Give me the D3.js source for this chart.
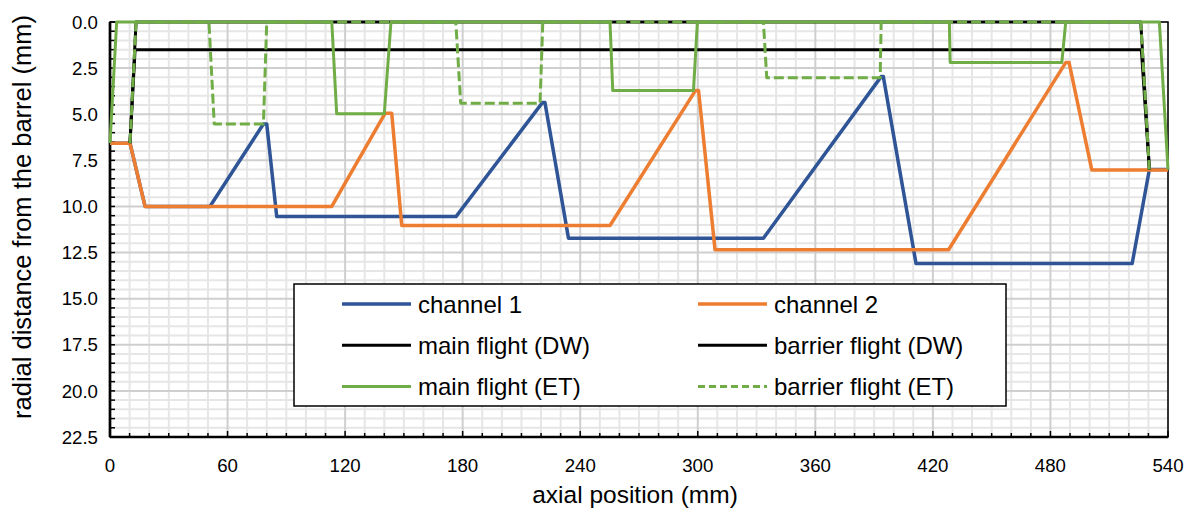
<!DOCTYPE html>
<html>
<head>
<meta charset="utf-8">
<script src="https://cdn.jsdelivr.net/npm/d3@7"></script>
<style>
  body { margin: 0; background: #fff; }
  text { font-family: "Liberation Sans", Arial, sans-serif; fill: #000; }
</style>
</head>
<body>
<div id="plot"></div>
<script>
// series (x = axial position mm, y = radial distance mm)
const ch1X = [0, 10.2, 17.9, 51.0, 78.3, 80.0, 85.1, 176.6, 220.7, 222.0, 234.0, 333.5, 393.6, 394.7, 411.4, 521.7, 530.5, 540];
const ch1Y = [6.57, 6.57, 10.0, 10.0, 5.53, 5.53, 10.55, 10.55, 4.37, 4.37, 11.72, 11.72, 2.96, 2.96, 13.1, 13.1, 8.0, 8.0];

const ch2X = [0, 10.2, 17.9, 113.2, 140.4, 143.8, 148.9, 255.2, 298.8, 300.4, 308.8, 428.0, 487.8, 489.5, 501.1, 540];
const ch2Y = [6.57, 6.57, 10.0, 10.0, 4.95, 4.95, 11.03, 11.03, 3.72, 3.72, 12.35, 12.35, 2.2, 2.2, 8.02, 8.02];

const mainDwX = [10.2, 12.8, 526.4, 530.5];
const mainDwY = [6.57, 1.5, 1.5, 8.0];

const barDwX = [10.2, 13.3, 526.1, 530.5];
const barDwY = [6.57, 0, 0, 8.0];

const mainEtX = [0, 3.4, 113.2, 115.7, 140.0, 143.4, 255.2, 256.6, 297.8, 299.8, 428.4, 428.8, 485.8, 487.8, 535.6, 540];
const mainEtY = [6.57, 0, 0, 4.98, 4.98, 0, 0, 3.72, 3.72, 0, 0, 2.2, 2.2, 0, 0, 8.0];

const barEtX = [10.2, 13.3, 50.5, 53.2, 78.3, 80.0, 176.5, 179.0, 219.5, 220.9, 333.5, 335.2, 393.1, 393.6, 526.1, 530.5];
const barEtY = [6.57, 0, 0, 5.53, 5.53, 0, 0, 4.4, 4.4, 0, 0, 3.02, 3.02, 0, 0, 8.0];

const xTicks = [0, 60, 120, 180, 240, 300, 360, 420, 480, 540];
const yTicks = [0, 2.5, 5, 7.5, 10, 12.5, 15, 17.5, 20, 22.5];

const seriesNames = ["channel 1", "channel 2", "main flight (DW)", "barrier flight (DW)", "main flight (ET)", "barrier flight (ET)"];

const series = [
  {name: seriesNames[0], xs: ch1X, ys: ch1Y, color: "#2F5597", width: 3.5, dash: null},
  {name: seriesNames[1], xs: ch2X, ys: ch2Y, color: "#ED7D31", width: 3.5, dash: null},
  {name: seriesNames[2], xs: mainDwX, ys: mainDwY, color: "#000000", width: 3, dash: null},
  {name: seriesNames[3], xs: barDwX, ys: barDwY, color: "#000000", width: 3, dash: null},
  {name: seriesNames[4], xs: mainEtX, ys: mainEtY, color: "#70AD47", width: 3, dash: null},
  {name: seriesNames[5], xs: barEtX, ys: barEtY, color: "#70AD47", width: 3, dash: "10,4"}
];

const margin = {top: 22, right: 19, bottom: 72, left: 110};
const width = 1187 - margin.left - margin.right;
const height = 509 - margin.top - margin.bottom;

const svg = d3.select("div#plot")
  .append("svg")
  .attr("width", 1187)
  .attr("height", 509)
  .append("g")
  .attr("transform", `translate(${margin.left},${margin.top})`);

const x = d3.scaleLinear().domain([0, 540]).range([0, width]);
const y = d3.scaleLinear().domain([0, 22.5]).range([0, height]);

// gridlines: minor first, major on top
const minorX = d3.range(0, 541, 10);
const minorY = d3.range(0, 22.51, 0.5);

svg.append("g").selectAll("line")
  .data(minorX.filter(v => v % 60 !== 0))
  .join("line")
  .attr("x1", d => x(d)).attr("x2", d => x(d))
  .attr("y1", 0).attr("y2", height)
  .attr("stroke", "#e6e6e6").attr("stroke-width", 2);

svg.append("g").selectAll("line")
  .data(minorY.filter(v => Math.abs(v / 2.5 - Math.round(v / 2.5)) > 1e-6))
  .join("line")
  .attr("x1", 0).attr("x2", width)
  .attr("y1", d => y(d)).attr("y2", d => y(d))
  .attr("stroke", "#e6e6e6").attr("stroke-width", 2);

svg.append("g").selectAll("line")
  .data(xTicks)
  .join("line")
  .attr("x1", d => x(d)).attr("x2", d => x(d))
  .attr("y1", 0).attr("y2", height)
  .attr("stroke", "#cfcfcf").attr("stroke-width", 2);

svg.append("g").selectAll("line")
  .data(yTicks)
  .join("line")
  .attr("x1", 0).attr("x2", width)
  .attr("y1", d => y(d)).attr("y2", d => y(d))
  .attr("stroke", "#cfcfcf").attr("stroke-width", 2);

// plot frame
svg.append("rect")
  .attr("width", width).attr("height", height)
  .attr("fill", "none").attr("stroke", "#000").attr("stroke-width", 1.5);

// axes with inward ticks
const xAxis = svg.append("g").attr("transform", `translate(0,${height})`);
xAxis.selectAll("line.minor")
  .data(minorX)
  .join("line")
  .attr("x1", d => x(d)).attr("x2", d => x(d))
  .attr("y1", 0).attr("y2", d => d % 60 === 0 ? -6 : -4)
  .attr("stroke", "#000").attr("stroke-width", 1.5);
xAxis.append("line")
  .attr("x1", 0).attr("x2", width)
  .attr("stroke", "#000").attr("stroke-width", 2.7);
xAxis.selectAll("text")
  .data(xTicks)
  .join("text")
  .attr("x", d => x(d))
  .attr("y", 35)
  .attr("text-anchor", "middle")
  .style("font-size", "18.67px")
  .text(d => d);

const yAxis = svg.append("g");
yAxis.selectAll("line.minor")
  .data(minorY)
  .join("line")
  .attr("y1", d => y(d)).attr("y2", d => y(d))
  .attr("x1", 0).attr("x2", 5)
  .attr("stroke", "#000").attr("stroke-width", 1.5);
yAxis.append("line")
  .attr("y1", 0).attr("y2", height)
  .attr("stroke", "#000").attr("stroke-width", 2.7);
yAxis.selectAll("text")
  .data(yTicks)
  .join("text")
  .attr("x", -12)
  .attr("y", d => y(d) + 6.7)
  .attr("text-anchor", "end")
  .style("font-size", "18.67px")
  .text(d3.format(".1f"));

// axis titles
svg.append("text")
  .attr("text-anchor", "middle")
  .attr("x", width / 2 - 4)
  .attr("y", height + 66)
  .style("font-size", "24.5px")
  .text("axial position (mm)");

svg.append("text")
  .attr("text-anchor", "middle")
  .attr("transform", "rotate(-90)")
  .attr("x", -(217 - margin.top))
  .attr("y", -margin.left + 31)
  .style("font-size", "25.5px")
  .text("radial distance from the barrel (mm)");

// series
const line = d3.line()
  .x(d => x(d[0]))
  .y(d => y(d[1]));

series.forEach(s => {
  svg.append("path")
    .datum(d3.zip(s.xs, s.ys))
    .attr("fill", "none")
    .attr("stroke", s.color)
    .attr("stroke-width", s.width)
    .attr("stroke-linejoin", "round")
    .attr("stroke-dasharray", s.dash)
    .attr("d", line);
});

// legend
const legend = svg.append("g").attr("transform", `translate(${294 - margin.left},${284 - margin.top})`);
legend.append("rect")
  .attr("width", 712).attr("height", 122)
  .attr("fill", "#fff").attr("stroke", "#000").attr("stroke-width", 1.5);

const legItems = legend.selectAll("g.item")
  .data(series)
  .join("g")
  .attr("transform", (d, i) => `translate(${i % 2 === 0 ? 48 : 404},${20 + Math.floor(i / 2) * 41.3})`);

legItems.append("line")
  .attr("x1", 0).attr("x2", 69)
  .attr("stroke", d => d.color)
  .attr("stroke-width", d => d.width)
  .attr("stroke-dasharray", d => d.dash ? "7,4" : null);

legItems.append("text")
  .attr("x", 76)
  .attr("y", 8.5)
  .style("font-size", "24px")
  .text(d => d.name);
</script>
</body>
</html>
